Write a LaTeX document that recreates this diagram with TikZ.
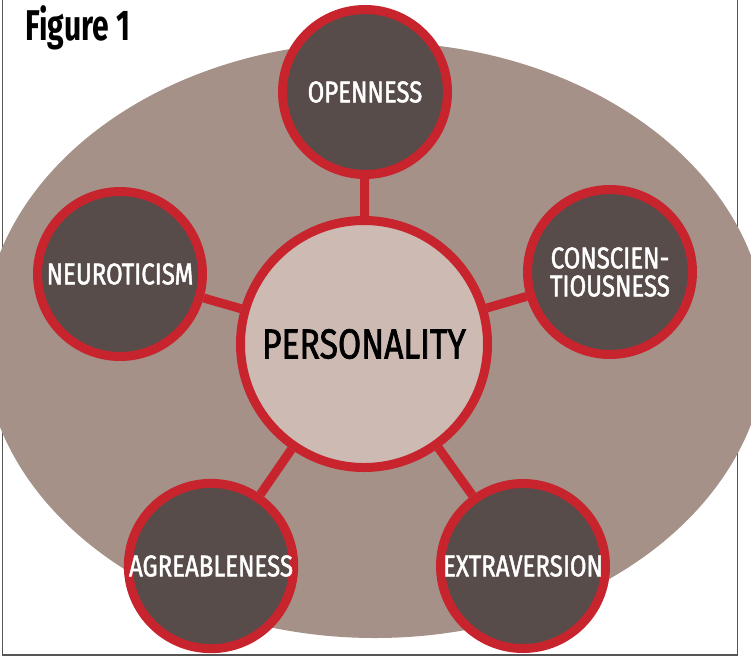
\documentclass[tikz,border=0pt]{standalone}
\usepackage{fontspec}
\setmainfont{Fira Sans}
\newfontfamily\labelfont[FakeStretch=0.8,FakeBold=1.6]{Fira Sans}
\newfontfamily\figfont[FakeStretch=0.7]{Fira Sans}

\definecolor{ovalgray}{HTML}{A69189}
\definecolor{corepink}{HTML}{CDBAB3}
\definecolor{traitbrown}{HTML}{574C49}
\definecolor{ringred}{HTML}{C8242E}
\definecolor{framegray}{HTML}{555555}

\begin{document}
\begin{tikzpicture}[x=1pt,y=-1pt,
    trait/.style={circle,draw=ringred,line width=9pt,fill=traitbrown,minimum size=165pt,inner sep=0pt,text=white,align=center,font=\labelfont\fontsize{30}{28}\selectfont},
    core/.style={circle,draw=ringred,line width=9pt,fill=corepink,minimum size=247pt,inner sep=0pt,font=\labelfont\fontsize{42}{42}\selectfont},
    link/.style={draw=ringred,line width=9pt}]
    \useasboundingbox (0,0) rectangle (751,659);
    % frame, open at the top
    \draw[framegray,line width=1.5pt] (2.5,0) -- (2.5,655) -- (737.5,655) -- (737.5,0);
    % big oval behind everything
    \begin{scope}
        \clip (0,0) rectangle (751,659);
        \fill[ovalgray] (375,340) ellipse [x radius=392pt, y radius=298pt];
    \end{scope}
    \node[anchor=base west,font=\figfont\bfseries\fontsize{43}{43}\selectfont] (fig) at (22,40) {Figure 1};
    \node[core] (pers) at (364,344) {PERSONALITY};
    \node[trait] (open) at (365,92) {OPENNESS};
    \node[trait] (consc) at (610,272) {CONSCIEN-\\TIOUSNESS};
    \node[trait] (neuro) at (120,274) {NEUROTICISM};
    \node[trait] (agree) at (211,566) {AGREABLENESS};
    \node[trait] (extra) at (523,566) {EXTRAVERSION};
    \draw[link] (pers) -- (open);
    \draw[link] (pers) -- (consc);
    \draw[link] (pers) -- (neuro);
    \draw[link] (pers) -- (agree);
    \draw[link] (pers) -- (extra);
\end{tikzpicture}
\end{document}
